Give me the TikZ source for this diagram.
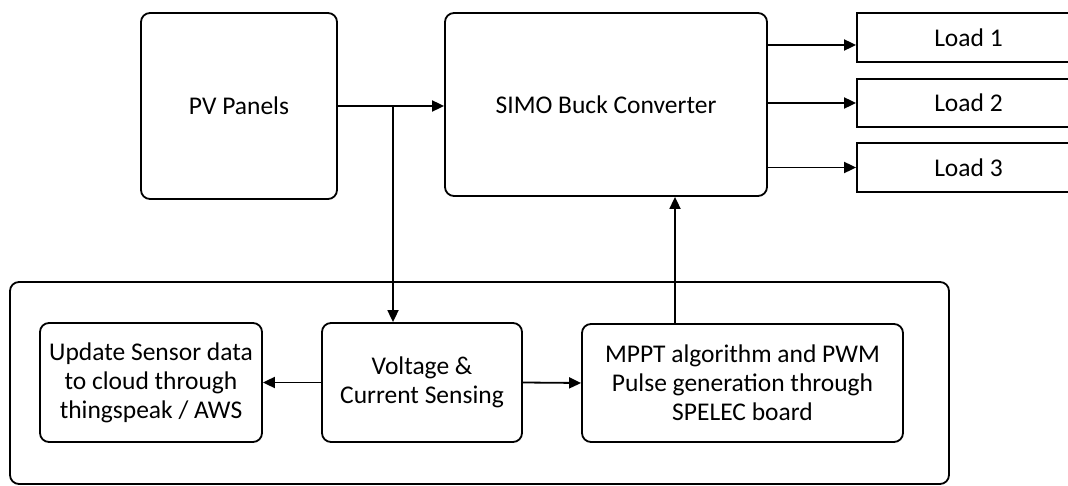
\documentclass[tikz,border=0pt]{standalone}
\usepackage{fontspec}
\setmainfont{Carlito}
\usetikzlibrary{arrows.meta}

\tikzset{
  block/.style={draw,line width=1.8pt,rounded corners=9pt,align=center,
                font=\fontsize{25.5}{29}\selectfont,inner sep=0pt},
  loadbox/.style={draw,line width=1.8pt,align=center,
                  font=\fontsize{25.5}{29}\selectfont,inner sep=0pt},
  flow/.style={line width=1.8pt,-{Triangle[length=12pt,width=11pt]}}
}

\begin{document}
\begin{tikzpicture}[x=1pt,y=-1pt]
\useasboundingbox (0,0) rectangle (1068,486);
\clip (0,0) rectangle (1068,486);

% top row
\node[block,minimum width=196pt,minimum height=186pt] (pv) at (239,106) {PV Panels};
\node[block,minimum width=322pt,minimum height=183pt] (simo) at (606,104.5) {SIMO Buck Converter};
\node[loadbox,minimum width=223pt,minimum height=49pt] (load1) at (968.5,37.5) {Load 1};
\node[loadbox,minimum width=223pt,minimum height=48pt] (load2) at (968.5,103) {Load 2};
\node[loadbox,minimum width=223pt,minimum height=49pt] (load3) at (968.5,167.5) {Load 3};

% controller board
\node[block,minimum width=939pt,minimum height=202pt] (board) at (479.5,383) {};
\node[block,minimum width=222pt,minimum height=119pt] (cloud) at (151,382.5)
  {Update Sensor data\\to cloud through\\thingspeak / AWS};
\node[block,minimum width=200pt,minimum height=119pt] (sense) at (422,382.5)
  {Voltage \&\\Current Sensing};
\node[block,minimum width=321pt,minimum height=118pt] (mppt) at (742.5,383)
  {MPPT algorithm and PWM\\Pulse generation through\\SPELEC board};

\coordinate (tap) at (393,106);
\coordinate (fb) at (675,0);

\draw[flow] (pv.east) -- (simo.west |- pv.east);
\draw[flow] (tap |- pv.east) -- (tap |- sense.north);
\draw[flow] ([yshift=-7.5pt]simo.east |- load1.west) -- ([yshift=-7.5pt]load1.west);
\draw[flow] (simo.east |- load2.west) -- (load2.west);
\draw[flow] (simo.east |- load3.west) -- (load3.west);
\draw[flow] (sense.west) -- (cloud.east);
\draw[flow] (sense.east) -- (mppt.west);
\draw[flow] (mppt.north -| fb) -- (simo.south -| fb);
\end{tikzpicture}
\end{document}
